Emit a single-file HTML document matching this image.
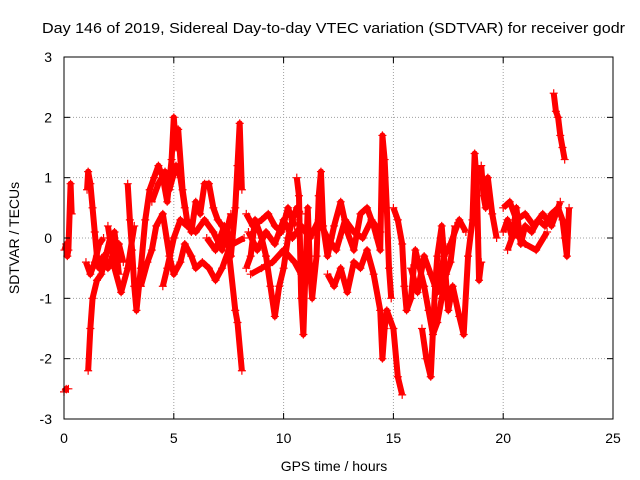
<!DOCTYPE html>
<html><head><meta charset="utf-8"><style>
body{margin:0;background:#fff}
svg{display:block;font-family:"Liberation Sans",sans-serif}
</style></head><body>
<svg id="c" width="640" height="480">
<text x="42" y="33" font-size="15" textLength="583" lengthAdjust="spacingAndGlyphs">Day 146 of 2019, Sidereal Day-to-day VTEC variation (SDTVAR) for receiver godr</text>
<g id="grid"></g>
<g id="marks"></g>
<rect x="64" y="57" width="549" height="362" fill="none" stroke="#000"/>
<g id="ticks"></g>
<text x="334" y="471" font-size="14" text-anchor="middle">GPS time / hours</text>
<text transform="translate(19,238) rotate(-90)" font-size="14" text-anchor="middle">SDTVAR / TECUs</text>
</svg>
<script>
const xTicks=[0,5,10,15,20,25];
const yTicks=[-3,-2,-1,0,1,2,3];
const trackA=[[0,-2.55],[0.1,-2.5],[0.2,-2.5]];
const trackB=[[0.02,-0.2],[0.1,-0.1],[0.15,-0.3],[0.2,-0.2],[0.3,0.9],[0.35,0.4]];
const trackC=[[1.05,0.8],[1.1,1.1],[1.2,0.9],[1.3,0.5],[1.4,0.1],[1.5,-0.3],[1.6,-0.5],[1.8,-0.3],[2.0,-0.5],[2.2,-0.3],[2.5,-0.1],[2.7,-0.4]];
const trackD=[[1.1,-2.2],[1.2,-1.5],[1.3,-1.0],[1.5,-0.7],[1.7,-0.6],[1.9,-0.3],[2.1,0],[2.3,0.1],[2.5,-0.6]];
const trackE=[[1.0,-0.4],[1.2,-0.6],[1.4,-0.4],[1.6,-0.1],[1.8,0.0]];
const trackF=[[2.9,0.9],[3.0,0.3],[3.1,-0.2],[3.2,-0.8],[3.3,-1.2],[3.5,-0.5],[3.7,0.3],[3.9,0.8],[4.1,1.0],[4.3,1.2],[4.5,1.0],[4.7,0.6],[4.9,1.3],[5.0,2.0],[5.1,1.5],[5.2,1.8],[5.4,0.8],[5.6,0.3],[5.8,0.1],[6.0,0.6],[6.2,0.4],[6.4,0.9],[6.6,0.9],[6.8,0.5],[7.0,0.3],[7.2,0.2],[7.4,0.0],[7.6,-0.3],[7.8,0.5],[7.9,1.2],[8.0,1.9],[8.1,0.8]];
const trackG=[[3.5,-0.8],[3.8,-0.4],[4.0,-0.2],[4.2,0.2],[4.5,0.4],[4.8,-0.3],[5.0,-0.6],[5.3,-0.4],[5.5,-0.1],[5.8,-0.3],[6.0,-0.5],[6.3,-0.4],[6.6,-0.5],[6.9,-0.7],[7.2,-0.5],[7.5,-0.2],[7.8,-1.2],[7.9,-1.4],[8.1,-2.2]];
const trackH=[[4.5,-0.8],[4.7,-0.5],[5.0,0],[5.3,0.3],[5.6,0.2],[6.0,0.1],[6.4,0.3],[6.8,0.1],[7.2,-0.2],[7.6,0.4]];
const trackI=[[8.3,-0.5],[8.5,-0.3],[8.7,0.3],[9.0,0],[9.2,-0.3],[9.4,-0.8],[9.6,-1.3],[9.8,-0.8],[10.0,-0.5],[10.2,0],[10.4,0.3],[10.6,0.5],[10.8,0.4]];
const trackJ=[[8.3,0.4],[8.6,0.2],[9.0,0.3],[9.3,0.4],[9.6,0.2],[9.9,0.1],[10.2,0.5],[10.5,0.2]];
const trackK=[[8.5,-0.6],[9.0,-0.5],[9.5,-0.4],[10.0,-0.2],[10.5,-0.4],[10.8,-0.6]];
const trackL=[[10.6,1.0],[10.7,0.7],[10.8,-1.0],[10.9,-1.6],[11.0,-0.5],[11.1,0.5],[11.2,-0.5],[11.3,-1.0],[11.5,-0.3],[11.6,0.7],[11.7,1.1],[11.8,0.2],[12.0,-0.3],[12.3,0.2],[12.6,0.6],[12.9,0.1],[13.2,-0.2],[13.5,0.4],[13.8,0.5],[14.1,0.2],[14.4,-0.2],[14.5,1.7],[14.6,1.3],[14.7,0.5],[14.8,-0.5],[14.9,-1.0]];
const trackM=[[12.0,-0.6],[12.3,-0.8],[12.6,-0.5],[12.9,-0.9],[13.2,-0.4],[13.5,-0.5],[13.8,-0.2],[14.1,-0.6],[14.4,-1.2],[14.5,-2.0],[14.6,-1.5],[14.7,-1.2],[15.0,-1.5],[15.2,-2.3],[15.4,-2.6]];
const trackN=[[15.0,0.5],[15.2,0.3],[15.4,-0.1],[15.5,-0.8],[15.6,-1.2],[15.8,-1.0],[16.0,-0.2],[16.2,-0.5],[16.4,-0.8],[16.6,-1.2],[16.8,-1.6],[17.0,-1.4],[17.2,-1.0],[17.4,-0.6],[17.6,-0.4],[17.8,0.2]];
const trackO=[[16.3,-1.5],[16.5,-2.0],[16.7,-2.3],[16.9,-0.8],[17.0,-0.3],[17.2,0.2],[17.5,-1.2],[17.7,-0.8],[18.0,-1.3],[18.2,-1.6],[18.4,-0.3],[18.6,0.3],[18.7,1.4],[18.8,0.9],[18.9,-0.7],[19.0,-0.4]];
const trackP=[[19.0,1.2],[19.1,0.7],[19.2,0.5],[19.3,1.0],[19.5,0.4],[19.7,0.0]];
const trackQ=[[20.0,0.1],[20.2,0.3],[20.4,0.0],[20.6,0.5],[20.8,-0.1],[21.0,0.2],[21.3,0.1],[21.6,0.3],[21.9,0.2],[22.2,0.4],[22.5,0.5],[22.7,0.3],[22.8,0.0],[22.9,-0.3],[23.0,0.5]];
const trackR=[[22.3,2.4],[22.4,2.1],[22.5,2.0],[22.6,1.7],[22.7,1.5],[22.8,1.3]];
const trackS=[[20.2,-0.2],[20.5,0.1],[21.0,-0.1],[21.5,-0.2],[22.0,0.1]];
const trackT1=[[4.0,0.6],[4.3,0.9],[4.6,1.1],[4.8,0.8],[5.1,1.2],[5.3,1.0],[5.5,0.5]];
const trackT2=[[8.4,0.1],[8.8,-0.2],[9.2,0.1],[9.6,-0.1],[10.0,0.3],[10.4,0.0],[10.8,0.2],[11.2,0.0],[11.6,0.3],[12.0,0.0],[12.4,-0.2],[12.8,0.3],[13.2,0.1],[13.6,0.0],[14.0,0.3],[14.4,0.1]];
const trackT3=[[15.8,-0.5],[16.1,-0.9],[16.4,-0.3],[16.7,-0.6],[17.0,-0.9],[17.3,-0.3],[17.6,-0.1],[18.0,0.3],[18.3,0.1]];
const trackT4=[[20.0,0.5],[20.3,0.6],[20.6,0.3],[21.0,0.4],[21.4,0.2],[21.8,0.4],[22.2,0.2],[22.6,0.6]];
const trackT5=[[6.5,0.0],[6.9,-0.2],[7.3,0.2],[7.7,-0.1],[8.2,0.0]];
const trackT6=[[2.0,0.2],[2.3,-0.5],[2.6,-0.9],[2.9,-0.5],[3.2,0.2]];
const tracks=[trackA,trackB,trackC,trackD,trackE,trackF,trackG,trackH,trackI,trackJ,trackK,trackL,trackM,trackN,trackO,trackP,trackQ,trackR,trackS,trackT1,trackT2,trackT3,trackT4,trackT5,trackT6];
const NS="http://www.w3.org/2000/svg";
const X0=64,X1=613,Y0=419,Y1=57;
function sx(t){return X0+(t-0)/(25-0)*(X1-X0);}
function sy(v){return Y0-(v+3)/6*(Y0-Y1);}
const grid=document.getElementById('grid'),ticks=document.getElementById('ticks'),marks=document.getElementById('marks');
function mk(tag,attrs,parent){const e=document.createElementNS(NS,tag);for(const k in attrs)e.setAttribute(k,attrs[k]);parent.appendChild(e);return e;}
xTicks.forEach(t=>{const x=sx(t);
 if(t>0&&t<25){const g=mk('line',{x1:x,x2:x,y1:Y1,y2:Y0,stroke:'#a0a0a0','stroke-dasharray':'1,2'},grid);
 
 }
 mk('line',{x1:x,x2:x,y1:Y0,y2:Y0-6,stroke:'#000'},ticks);
 mk('line',{x1:x,x2:x,y1:Y1,y2:Y1+6,stroke:'#000'},ticks);
 const l=mk('text',{x:x,y:443,'font-size':14,'text-anchor':'middle'},ticks);l.textContent=t;
 
 });
yTicks.forEach(v=>{const y=sy(v);
 if(v>-3&&v<3){const g=mk('line',{x1:X0,x2:X1,y1:y,y2:y,stroke:'#a0a0a0','stroke-dasharray':'1,2'},grid);
 
 }
 mk('line',{x1:X0,x2:X0+6,y1:y,y2:y,stroke:'#000'},ticks);
 mk('line',{x1:X1,x2:X1-6,y1:y,y2:y,stroke:'#000'},ticks);
 const l=mk('text',{x:52,y:y+5,'font-size':14,'text-anchor':'end'},ticks);l.textContent=v;
 
 });
tracks.forEach(tr=>{
 const p=mk('polyline',{points:tr.map(d=>sx(d[0])+','+sy(d[1])).join(' '),fill:'none',stroke:'#f00','stroke-width':6,'stroke-linejoin':'round'},marks);
 
 
 tr.forEach(d=>{const x=sx(d[0]),y=sy(d[1]);
  const m=mk('path',{d:`M${x-4},${y}H${x+4}M${x},${y-4}V${y+4}`,stroke:'#f00','stroke-width':1.2},marks);
  
  });
});
</script>
</body></html>
